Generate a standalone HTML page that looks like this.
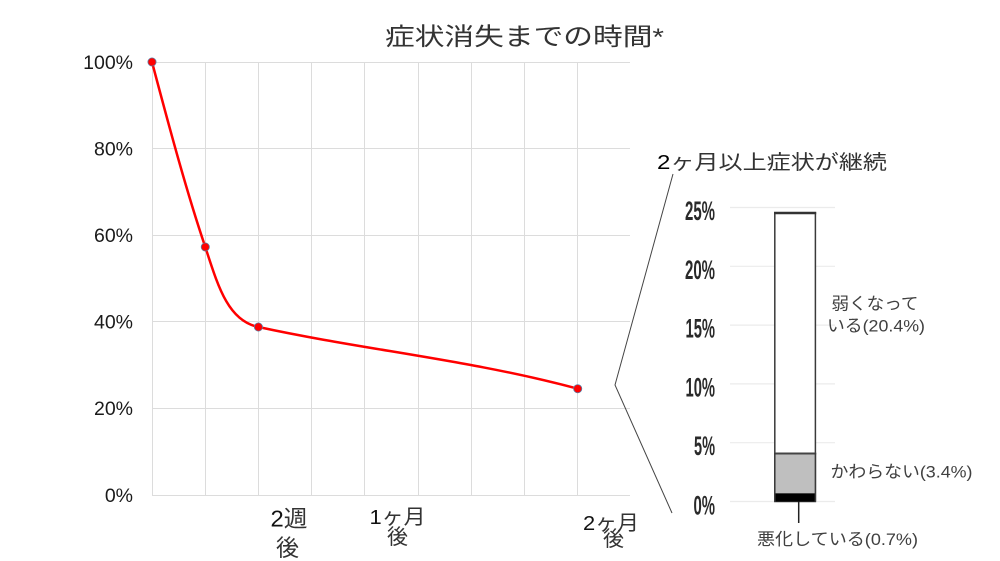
<!DOCTYPE html>
<html><head><meta charset="utf-8">
<style>
html,body{margin:0;padding:0;background:#fff;}
svg{display:block;}
text{font-family:"Liberation Sans","Noto Sans CJK JP",sans-serif;}
</style></head>
<body>
<svg width="1000" height="561" viewBox="0 0 1000 561" xmlns="http://www.w3.org/2000/svg">
<rect width="1000" height="561" fill="#fff"/>
<!-- title -->
<text x="385" y="45" font-size="24.5" fill="#333" textLength="279" lengthAdjust="spacingAndGlyphs">症状消失までの時間*</text>

<!-- main grid -->
<g stroke="#dcdcdc" stroke-width="1" fill="none">
<line x1="152" y1="62.5" x2="630" y2="62.5"/>
<line x1="152" y1="148.5" x2="630" y2="148.5"/>
<line x1="152" y1="235.5" x2="630" y2="235.5"/>
<line x1="152" y1="321.5" x2="630" y2="321.5"/>
<line x1="152" y1="408.5" x2="630" y2="408.5"/>
<line x1="152" y1="495.5" x2="630" y2="495.5"/>
<line x1="152.5" y1="62" x2="152.5" y2="495"/>
<line x1="205.5" y1="62" x2="205.5" y2="495"/>
<line x1="258.5" y1="62" x2="258.5" y2="495"/>
<line x1="311.5" y1="62" x2="311.5" y2="495"/>
<line x1="364.5" y1="62" x2="364.5" y2="495"/>
<line x1="418.5" y1="62" x2="418.5" y2="495"/>
<line x1="471.5" y1="62" x2="471.5" y2="495"/>
<line x1="524.5" y1="62" x2="524.5" y2="495"/>
<line x1="577.5" y1="62" x2="577.5" y2="495"/>
</g>

<!-- y labels -->
<g font-size="19.5" fill="#1a1a1a" text-anchor="end">
<text x="133" y="69">100%</text>
<text x="133" y="155.5">80%</text>
<text x="133" y="242">60%</text>
<text x="133" y="328.5">40%</text>
<text x="133" y="415">20%</text>
<text x="133" y="502">0%</text>
</g>

<!-- curve -->
<path d="M152,62 C170,130 187.3,194 205.3,247 C218,286 228,321 258.5,327 C364.5,350 471,360 577.7,388.7" fill="none" stroke="#ff0000" stroke-width="2.5"/>
<g fill="#ff0000" stroke="#5b7fa6" stroke-width="0.8">
<circle cx="152" cy="62" r="4.1"/>
<circle cx="205.3" cy="247" r="4.1"/>
<circle cx="258.4" cy="327" r="4.1"/>
<circle cx="577.7" cy="388.7" r="4.1"/>
</g>

<!-- x labels -->
<text x="270.5" y="526.7" font-size="23" fill="#111" textLength="37" lengthAdjust="spacingAndGlyphs">2<tspan fill="#333">週</tspan></text>
<text x="276" y="555.5" font-size="23" fill="#333">後</text>
<text x="369.5" y="524" font-size="20.5" fill="#111" textLength="56" lengthAdjust="spacingAndGlyphs">1<tspan fill="#333">ヶ月</tspan></text>
<text x="387" y="544" font-size="21" fill="#333">後</text>
<text x="583" y="530" font-size="20.5" fill="#111" textLength="56" lengthAdjust="spacingAndGlyphs">2<tspan fill="#333">ヶ月</tspan></text>
<text x="603" y="546" font-size="21" fill="#333">後</text>

<!-- zoom lines -->
<polyline points="673,174 615,385 672,513" fill="none" stroke="#444" stroke-width="1"/>

<!-- bar chart title -->
<text x="657" y="169" font-size="20" fill="#333" textLength="230" lengthAdjust="spacingAndGlyphs"><tspan fill="#000">2</tspan>ヶ月以上症状が継続</text>

<!-- bar grid -->
<g stroke="#ebebeb" stroke-width="1.2">
<line x1="730" y1="207.5" x2="835" y2="207.5"/>
<line x1="730" y1="266.3" x2="835" y2="266.3"/>
<line x1="730" y1="325.1" x2="835" y2="325.1"/>
<line x1="730" y1="383.9" x2="835" y2="383.9"/>
<line x1="730" y1="442.7" x2="835" y2="442.7"/>
<line x1="730" y1="501.5" x2="835" y2="501.5"/>
</g>
<g font-size="27" font-weight="bold" fill="#2a2a2a" text-anchor="end">
<text x="715" y="220" textLength="30" lengthAdjust="spacingAndGlyphs">25%</text>
<text x="715" y="278.8" textLength="30" lengthAdjust="spacingAndGlyphs">20%</text>
<text x="715" y="337.6" textLength="29.5" lengthAdjust="spacingAndGlyphs">15%</text>
<text x="715" y="396.4" textLength="29.5" lengthAdjust="spacingAndGlyphs">10%</text>
<text x="715" y="455.2" textLength="21" lengthAdjust="spacingAndGlyphs">5%</text>
<text x="715" y="514.5" textLength="21.5" lengthAdjust="spacingAndGlyphs">0%</text>
</g>

<!-- bar -->
<rect x="774.8" y="213" width="40.6" height="288.5" fill="#fff" stroke="#3a3a3a" stroke-width="1.5"/>
<rect x="774.8" y="453.3" width="40.6" height="40" fill="#bfbfbf"/>
<rect x="774.8" y="493.3" width="40.6" height="8.2" fill="#000"/>
<line x1="774" y1="213" x2="816.2" y2="213" stroke="#333" stroke-width="2.5"/>
<line x1="774" y1="453.5" x2="816.2" y2="453.5" stroke="#444" stroke-width="2"/>
<line x1="774.8" y1="453" x2="774.8" y2="501.5" stroke="#3a3a3a" stroke-width="1.5"/>
<line x1="815.4" y1="453" x2="815.4" y2="501.5" stroke="#3a3a3a" stroke-width="1.5"/>
<line x1="798.7" y1="501.5" x2="798.7" y2="523" stroke="#222" stroke-width="1.5"/>

<!-- bar labels -->
<g font-size="17" fill="#404040">
<text x="831.5" y="309.5" textLength="87" lengthAdjust="spacingAndGlyphs">弱くなって</text>
<text x="827" y="331.5" textLength="98" lengthAdjust="spacingAndGlyphs">いる(20.4%)</text>
<text x="830.5" y="477.5" textLength="142" lengthAdjust="spacingAndGlyphs">かわらない(3.4%)</text>
<text x="757" y="545" textLength="161" lengthAdjust="spacingAndGlyphs">悪化している(0.7%)</text>
</g>
</svg>
</body></html>
